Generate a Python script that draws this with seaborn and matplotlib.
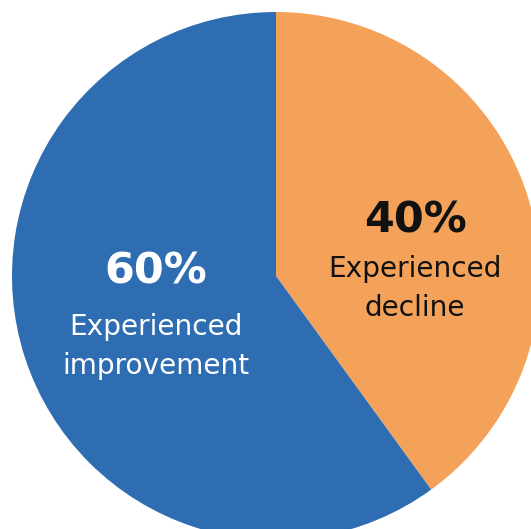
import matplotlib
matplotlib.use("Agg")
import matplotlib.pyplot as plt
import seaborn as sns

labels = [["Experienced", "decline"], ["Experienced", "improvement"]]
shares = [40, 60]
pct_labels = ["40%", "60%"]
colors = ["#F4A259", "#2E6DB1"]
text_colors = ["#111111", "white"]

sns.set_theme(style="white")
plt.rcParams['font.family'] = ['DejaVu Sans']

fig = plt.figure(figsize=(5.31, 5.29), dpi=100)
ax = fig.add_axes([0, 0, 1, 1])

ax.pie(shares, colors=colors, startangle=90, counterclock=False,
       wedgeprops=dict(linewidth=0))

# label positions: centre x, baselines of pct and of each text line
pos = [(0.527, 0.163, [-0.004, -0.152]),
       (-0.455, -0.030, [-0.223, -0.371])]
for i in range(len(shares)):
    x, y_pct, y_lines = pos[i]
    ax.text(x, y_pct, pct_labels[i], ha="center", va="baseline",
            fontsize=31, fontweight="bold", color=text_colors[i])
    for line, y in zip(labels[i], y_lines):
        ax.text(x, y, line, ha="center", va="baseline",
                fontsize=20.2, color=text_colors[i])

ax.set_aspect("auto")
ax.set_xlim(-276 / 264, (531 - 276) / 264)
ax.set_ylim((276 - 529) / 264, 276 / 264)
ax.axis("off")

fig.savefig("out.png", dpi=100)
